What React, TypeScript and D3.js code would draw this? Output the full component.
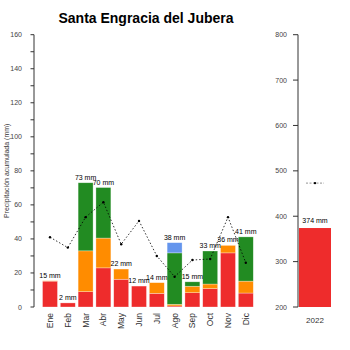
import React from "react";
import * as d3 from "d3";

const months = ["Ene", "Feb", "Mar", "Abr", "May", "Jun", "Jul", "Ago", "Sep", "Oct", "Nov", "Dic"];
const redVals = [15.2, 2.4, 9, 23, 16.3, 12.3, 8, 0.6, 8.4, 10.8, 31.8, 8.2];
const orangeVals = [0.2, 0, 24, 17.5, 6, 0, 6.3, 1, 3.8, 2.7, 4.4, 7];
const greenVals = [0, 0, 40, 29.7, 0, 0, 0, 30.2, 2.6, 19.4, 0, 26];
const blueVals = [0, 0, 0, 0, 0, 0, 0, 6, 0, 0, 0, 0];
const barLabels = ["15 mm", "2 mm", "73 mm", "70 mm", "22 mm", "12 mm", "14 mm", "38 mm", "15 mm", "33 mm", "36 mm", "41 mm"];
const avgVals = [41, 34.9, 52.8, 61.6, 36.9, 50.6, 30, 17.8, 27.6, 28.2, 52.8, 26];
const leftTicks = [0, 20, 40, 60, 80, 100, 120, 140, 160];
const leftMinorTicks = [10, 30, 50, 70, 90, 110, 130, 150];
const yearCats = ["2022"];
const yearTotal = [374];
const yearLabel = ["374 mm"];
const yearAvg = [473];
const rightTicks = [200, 300, 400, 500, 600, 700, 800];

const RED = "#EE2C2C";
const ORANGE = "#FF8C00";
const GREEN = "#228B22";
const BLUE = "#6495ED";
const seriesColors = [RED, ORANGE, GREEN, BLUE];

export default function App() {
  const font = "Liberation Sans, Arial, sans-serif";
  const x = d3.scaleBand<string>().domain(months).range([41.1, 254.7]).paddingInner(0.16).paddingOuter(0.08);
  const y = d3.scaleLinear().domain([0, 160]).range([307, 34.7]);
  const xr = d3.scaleBand<string>().domain(yearCats).range([299, 331]).padding(0);
  const yr = d3.scaleLinear().domain([200, 800]).range([307, 34.7]);

  const table = months.map((m, i) => ({ m, r: redVals[i], o: orangeVals[i], g: greenVals[i], b: blueVals[i] }));
  const stack = d3.stack<any>().keys(["r", "o", "g", "b"])(table);
  const totals = months.map((_, i) => redVals[i] + orangeVals[i] + greenVals[i] + blueVals[i]);

  const line = d3
    .line<number>()
    .x((_, i) => (x(months[i]) as number) + x.bandwidth() / 2)
    .y((d) => y(d));

  const bw = x.bandwidth();
  return (
    <svg width={350} height={350} style={{ position: "absolute", left: 0, top: 0, background: "#fff" }} fontFamily={font}>
      <rect width={350} height={350} fill="#fff" />
      <text x={146} y={23} textAnchor="middle" fontSize={14} fontWeight="bold" fill="#000">
        Santa Engracia del Jubera
      </text>
      {/* left axis */}
      <line x1={34} x2={34} y1={y(0)} y2={y(160)} stroke="#333" strokeWidth={1} />
      {leftTicks.map((t) => (
        <g key={"lt" + t}>
          <line x1={30.5} x2={34} y1={y(t)} y2={y(t)} stroke="#333" />
          <text x={22} y={y(t) + 2.5} textAnchor="end" fontSize={7} fill="#444">
            {t}
          </text>
        </g>
      ))}
      {leftMinorTicks.map((t) => (
        <line key={"lm" + t} x1={30.5} x2={34} y1={y(t)} y2={y(t)} stroke="#333" />
      ))}
      <text transform={`translate(9,${(y(0) + y(160)) / 2}) rotate(-90)`} textAnchor="middle" fontSize={7} fill="#333">
        Precipitación acumulada (mm)
      </text>
      {/* stacked bars */}
      {stack.map((s, si) => (
        <g key={"s" + si} fill={seriesColors[si]}>
          {s.map((d, i) =>
            d[1] - d[0] > 0 ? (
              <rect
                key={i}
                x={x(months[i])}
                y={y(d[1])}
                width={bw}
                height={y(d[0]) - y(d[1])}
                stroke="#fff"
                strokeOpacity={0.5}
                strokeWidth={0.6}
              />
            ) : null
          )}
        </g>
      ))}
      {months.map((m, i) => (
        <text key={"bl" + i} x={(x(m) as number) + bw / 2} y={y(totals[i]) - 3} textAnchor="middle" fontSize={7} fill="#000">
          {barLabels[i]}
        </text>
      ))}
      {/* average line */}
      <path d={line(avgVals) || ""} fill="none" stroke="#000" strokeWidth={0.8} strokeDasharray="1.5,2" />
      {avgVals.map((v, i) => (
        <circle key={"c" + i} cx={(x(months[i]) as number) + bw / 2} cy={y(v)} r={1.2} fill="#000" />
      ))}
      {months.map((m, i) => (
        <text
          key={"ml" + i}
          transform={`translate(${(x(m) as number) + bw / 2 + 3},313) rotate(-90)`}
          textAnchor="end"
          fontSize={8.5}
          fill="#333"
        >
          {m}
        </text>
      ))}
      {/* right panel */}
      <line x1={298} x2={298} y1={yr(200)} y2={yr(800)} stroke="#333" strokeWidth={1} />
      {rightTicks.map((t) => (
        <g key={"rt" + t}>
          <line x1={293} x2={298} y1={yr(t)} y2={yr(t)} stroke="#333" />
          <text x={287} y={yr(t) + 2.5} textAnchor="end" fontSize={7} fill="#444">
            {t}
          </text>
        </g>
      ))}
      {yearCats.map((c, i) => (
        <g key={"yc" + i}>
          <rect x={xr(c)} y={yr(yearTotal[i])} width={xr.bandwidth()} height={yr(200) - yr(yearTotal[i])} fill={RED} />
          <text x={(xr(c) as number) + xr.bandwidth() / 2} y={yr(yearTotal[i]) - 5} textAnchor="middle" fontSize={7} fill="#000">
            {yearLabel[i]}
          </text>
          <line
            x1={(xr(c) as number) + xr.bandwidth() / 2 - 9}
            x2={(xr(c) as number) + xr.bandwidth() / 2 + 9}
            y1={yr(yearAvg[i])}
            y2={yr(yearAvg[i])}
            stroke="#777"
            strokeWidth={0.8}
            strokeDasharray="2,1.5"
          />
          <circle cx={(xr(c) as number) + xr.bandwidth() / 2} cy={yr(yearAvg[i])} r={1.2} fill="#000" />
          <text x={(xr(c) as number) + xr.bandwidth() / 2} y={323} textAnchor="middle" fontSize={8} fill="#333">
            {c}
          </text>
        </g>
      ))}
    </svg>
  );
}
